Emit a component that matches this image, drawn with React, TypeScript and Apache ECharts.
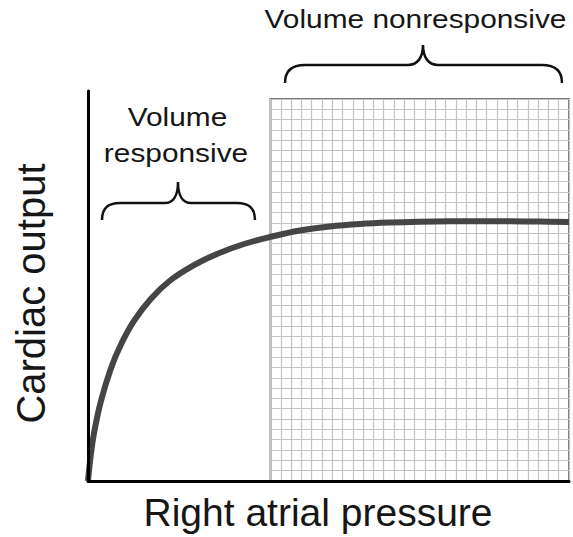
import React, { useEffect, useRef } from "react";
import * as echarts from "echarts";

// Curve: right atrial pressure (0-100, relative) vs cardiac output (0-100, relative)
const pressure = [0, 0.58, 1.25, 2.64, 4.72, 6.8, 9.56, 13.04, 17.19, 22.04, 26.82, 32.43, 38.25, 44.07, 50.31, 56.55, 62.79, 69.02, 75.26, 81.5, 87.73, 93.97, 100];
const output = [0, 6.67, 12.31, 20.26, 28.72, 34.87, 41.03, 46.67, 51.54, 55.38, 58.21, 60.77, 62.69, 64.23, 65.26, 65.9, 66.28, 66.49, 66.59, 66.62, 66.59, 66.51, 66.41];

// Graph-paper region (plateau / volume nonresponsive)
const paperCols = 29;
const paperRows = 37;

const xTitle = "Right atrial pressure";
const yTitle = "Cardiac output";
const leftLabel = ["Volume", "responsive"];
const rightLabel = "Volume nonresponsive";

const braceLeft =
  "M 102 220 C 102 208 108 203 120 203 L 165 203 C 173 203 178 196 178 182 C 178 196 183 203 191 203 L 237 203 C 249 203 255 208 255 220";
const braceTop =
  "M 285 83 C 285 71 292 65 305 65 L 408 65 C 417 65 423 58 423 45 C 423 58 429 65 438 65 L 542 65 C 555 65 562 71 562 83";

echarts.graphic.registerShape("braceLeft", echarts.graphic.extendPath(braceLeft, {}));
echarts.graphic.registerShape("braceTop", echarts.graphic.extendPath(braceTop, {}));

export default function App() {
  const ref = useRef<HTMLDivElement>(null);
  useEffect(() => {
    document.body.style.margin = "0";
    const chart = echarts.init(ref.current!, null, { renderer: "svg" });
    const font = "Liberation Sans, Arial, sans-serif";
    const txt = "#161616";
    chart.setOption({
      animation: false,
      backgroundColor: "#ffffff",
      grid: [
        { left: 88, top: 91, width: 481, height: 390, show: false },
        {
          left: 270.5,
          top: 99,
          width: 298.5,
          height: 382,
          show: true,
          borderColor: "#7a7a7a",
          borderWidth: 2,
          backgroundColor: "transparent",
          z: 0,
        },
      ],
      xAxis: [
        {
          type: "value",
          gridIndex: 0,
          min: 0,
          max: 100,
          axisLine: { show: true, lineStyle: { color: "#000", width: 3 } },
          axisTick: { show: false },
          axisLabel: { show: false },
          splitLine: { show: false },
          z: 5,
        },
        {
          type: "value",
          gridIndex: 1,
          min: 0,
          max: paperCols,
          interval: 1,
          axisLine: { show: false },
          axisTick: { show: false },
          axisLabel: { show: false },
          splitLine: { show: true, lineStyle: { color: "#c4c4c4", width: 1.2 } },
        },
      ],
      yAxis: [
        {
          type: "value",
          gridIndex: 0,
          min: 0,
          max: 100,
          axisLine: { show: true, lineStyle: { color: "#000", width: 3 } },
          axisTick: { show: false },
          axisLabel: { show: false },
          splitLine: { show: false },
          z: 5,
        },
        {
          type: "value",
          gridIndex: 1,
          min: 0,
          max: paperRows,
          interval: 1,
          axisLine: { show: false },
          axisTick: { show: false },
          axisLabel: { show: false },
          splitLine: { show: true, lineStyle: { color: "#c4c4c4", width: 1.2 } },
        },
      ],
      series: [
        {
          type: "line",
          xAxisIndex: 0,
          yAxisIndex: 0,
          data: pressure.map((p, i) => [p, output[i]]),
          smooth: 0.4,
          symbol: "none",
          lineStyle: { color: "#454545", width: 6 },
          z: 4,
        },
      ],
      graphic: [
        {
          type: "text",
          x: 318,
          y: 512.5,
          style: { text: xTitle, font: `39px ${font}`, fill: txt, textAlign: "center", textVerticalAlign: "middle" },
        },
        {
          type: "text",
          x: 30.5,
          y: 293.5,
          rotation: Math.PI / 2,
          style: { text: yTitle, font: `40px ${font}`, fill: txt, textAlign: "center", textVerticalAlign: "middle" },
        },
        {
          type: "text",
          x: 177.5,
          y: 117.5,
          scaleX: 1.17,
          style: { text: leftLabel[0], font: `25.5px ${font}`, fill: txt, textAlign: "center", textVerticalAlign: "middle" },
        },
        {
          type: "text",
          x: 176,
          y: 153,
          scaleX: 1.17,
          style: { text: leftLabel[1], font: `25.5px ${font}`, fill: txt, textAlign: "center", textVerticalAlign: "middle" },
        },
        {
          type: "text",
          x: 415.5,
          y: 19.2,
          scaleX: 1.17,
          style: { text: rightLabel, font: `25.5px ${font}`, fill: txt, textAlign: "center", textVerticalAlign: "middle" },
        },
        {
          type: "braceLeft",
          x: 0,
          y: 0,
          style: { stroke: "#111", lineWidth: 2.5, fill: null },
        },
        {
          type: "braceTop",
          x: 0,
          y: 0,
          style: { stroke: "#111", lineWidth: 2.5, fill: null },
        },
      ],
    });
    return () => chart.dispose();
  }, []);
  return <div ref={ref} style={{ width: 573, height: 537 }} />;
}
